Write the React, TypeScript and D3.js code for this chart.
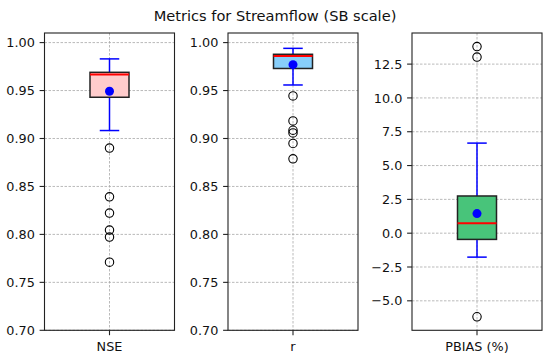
import React from "react";
import * as d3 from "d3";

const metrics = ["NSE", "r", "PBIAS (%)"];
const boxColors = ["#ffcccc", "#87cefa", "#48c47a"];

// box stats: [whiskerLow, q1, median, q3, whiskerHigh]
const nseStats = [0.9083, 0.943, 0.9667, 0.969, 0.983];
const rStats = [0.9558, 0.973, 0.986, 0.9878, 0.994];
const pbiasStats = [-1.77, -0.46, 0.74, 2.75, 6.66];

const means = [0.9493, 0.977, 1.45];

const nseOutliers = [0.89, 0.8392, 0.8222, 0.8045, 0.7972, 0.771];
const rOutliers = [0.9444, 0.9183, 0.9086, 0.9058, 0.8948, 0.8788];
const pbiasOutliers = [13.8, 13.02, -6.18];

const nseTicks = [0.7, 0.75, 0.8, 0.85, 0.9, 0.95, 1.0];
const rTicks = [0.7, 0.75, 0.8, 0.85, 0.9, 0.95, 1.0];
const pbiasTicks = [-5.0, -2.5, 0.0, 2.5, 5.0, 7.5, 10.0, 12.5];

const width = 550;
const height = 355;
const top = 33;
const bottom = 330.3;
const panelW = 130;
const panelX = [44.5, 228, 412];
const fontFamily = "DejaVu Sans, sans-serif";

const fmtMinus = (f: (n: number) => string) => (v: number) => f(v).replace("-", "\u2212");

const panels = [
  { stats: nseStats, outliers: nseOutliers, ticks: nseTicks, domain: [0.7, 1.01], fmt: d3.format(".2f") },
  { stats: rStats, outliers: rOutliers, ticks: rTicks, domain: [0.7, 1.01], fmt: d3.format(".2f") },
  { stats: pbiasStats, outliers: pbiasOutliers, ticks: pbiasTicks, domain: [-7.18, 14.8], fmt: fmtMinus(d3.format(".1f")) },
];

function Panel({ i }: { i: number }) {
  const p = panels[i];
  const x0 = panelX[i];
  const x = d3.scaleLinear().domain([0.5, 1.5]).range([x0, x0 + panelW]);
  const y = d3.scaleLinear().domain(p.domain).range([bottom, top]);
  const [wl, q1, med, q3, wh] = p.stats;
  const cx = x(1);
  const bw = x(1.15) - x(0.85);
  const cw = bw / 2;
  return (
    <g>
      {/* grid */}
      {p.ticks.map((t) => (
        <line key={t} x1={x0} x2={x0 + panelW} y1={y(t)} y2={y(t)} stroke="#a8a8a8" strokeWidth={0.8} strokeDasharray="2.5,1.5" />
      ))}
      <line x1={cx} x2={cx} y1={top} y2={bottom} stroke="#a8a8a8" strokeWidth={0.8} strokeDasharray="2.5,1.5" />
      {/* whiskers */}
      <line x1={cx} x2={cx} y1={y(q3)} y2={y(wh)} stroke="blue" strokeWidth={1.5} />
      <line x1={cx} x2={cx} y1={y(q1)} y2={y(wl)} stroke="blue" strokeWidth={1.5} />
      <line x1={cx - cw / 2} x2={cx + cw / 2} y1={y(wh)} y2={y(wh)} stroke="blue" strokeWidth={1.5} />
      <line x1={cx - cw / 2} x2={cx + cw / 2} y1={y(wl)} y2={y(wl)} stroke="blue" strokeWidth={1.5} />
      {/* box */}
      <rect x={cx - bw / 2} y={y(q3)} width={bw} height={y(q1) - y(q3)} fill={boxColors[i]} stroke="#222" strokeWidth={1.5} />
      <line x1={cx - bw / 2} x2={cx + bw / 2} y1={y(med)} y2={y(med)} stroke="red" strokeWidth={2} />
      {/* outliers */}
      {p.outliers.map((o, k) => (
        <circle key={k} cx={cx} cy={y(o)} r={4.2} fill="none" stroke="black" strokeWidth={1.1} />
      ))}
      <circle cx={cx} cy={y(means[i])} r={4.5} fill="blue" />
      {/* frame */}
      <rect x={x0} y={top} width={panelW} height={bottom - top} fill="none" stroke="#222" strokeWidth={1.1} />
      {/* y ticks */}
      {p.ticks.map((t) => (
        <g key={t}>
          <line x1={x0 - 4.9} x2={x0} y1={y(t)} y2={y(t)} stroke="#222" strokeWidth={1.1} />
          <text x={x0 - 9.7} y={y(t)} dy="0.36em" textAnchor="end" fontSize={12.8} fontFamily={fontFamily} fill="#111">
            {p.fmt(t)}
          </text>
        </g>
      ))}
      {/* x tick */}
      <line x1={cx} x2={cx} y1={bottom} y2={bottom + 4.9} stroke="#222" strokeWidth={1.1} />
      <text x={cx} y={bottom + 20.5} textAnchor="middle" fontSize={12.8} fontFamily={fontFamily} fill="#111">
        {metrics[i]}
      </text>
    </g>
  );
}

export default function App() {
  return (
    <svg width={width} height={height} style={{ position: "absolute", left: 0, top: 0 }}>
      <rect width={width} height={height} fill="white" />
      <text x={275} y={20.5} textAnchor="middle" fontSize={14.6} fontFamily={fontFamily} fill="#111">
        Metrics for Streamflow (SB scale)
      </text>
      {metrics.map((_, i) => (
        <Panel key={i} i={i} />
      ))}
    </svg>
  );
}
